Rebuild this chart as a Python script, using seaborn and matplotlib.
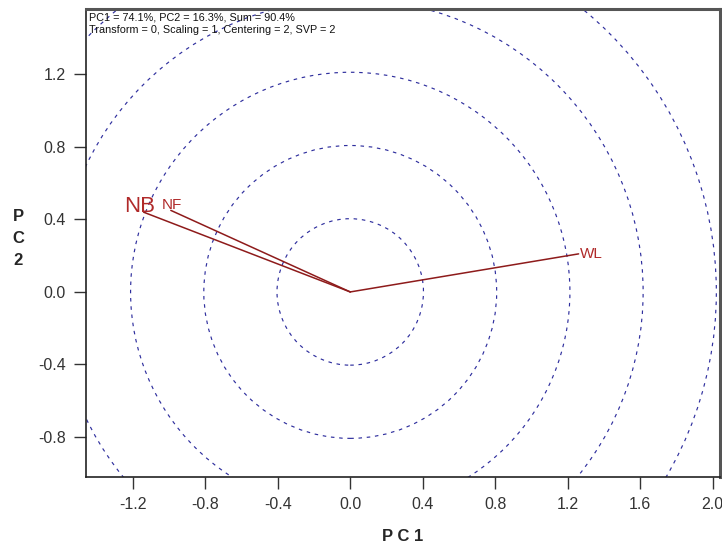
import numpy as np
import pandas as pd
import seaborn as sns
import matplotlib.pyplot as plt
from matplotlib.patches import Circle

# vector (loading) end points
variables = ["NB", "NF", "WL"]
pc1 = [-1.14, -0.99, 1.26]
pc2 = [0.44, 0.45, 0.21]

# concentric reference circles
radii = [0.404, 0.808, 1.212, 1.616, 2.02]

xticks = [-1.2, -0.8, -0.4, 0.0, 0.4, 0.8, 1.2, 1.6, 2.0]
yticks = [-0.8, -0.4, 0.0, 0.4, 0.8, 1.2]

sns.set_style("ticks")
plt.rcParams['font.family'] = ['Liberation Sans', 'DejaVu Sans']

fig = plt.figure(figsize=(7.22, 5.46), dpi=100)
ax = fig.add_axes([0.1191, 0.1264, 0.8781, 0.8571])

for r in radii:
    ax.add_patch(Circle((0, 0), r, fill=False, edgecolor="#2f2f9e",
                        linewidth=0.85, linestyle=(0, (3, 4)), zorder=1))

# segments from origin to each variable
seg = pd.DataFrame({
    "var": [v for v in variables for _ in range(2)],
    "x": [c for x in pc1 for c in (0.0, x)],
    "y": [c for y in pc2 for c in (0.0, y)],
})
sns.lineplot(data=seg, x="x", y="y", units="var", estimator=None,
             sort=False, color="#8e1b1b", linewidth=1.1, ax=ax, zorder=3)

# labels
offsets = {"NB": (-3, 4), "NF": (1, 4), "WL": (9, 0)}
sizes = {"NB": 16, "NF": 11, "WL": 11}
for v, x, y in zip(variables, pc1, pc2):
    ax.annotate(v, (x, y), xytext=offsets[v], textcoords="offset points",
                ha="center", va="center", fontsize=sizes[v],
                color="#b02a2a", zorder=4)

ax.set_xlim(-1.458, 2.040)
ax.set_ylim(-1.021, 1.561)
ax.set_xticks(xticks)
ax.set_yticks(yticks)
ax.set_xticklabels([f"{t:.1f}" for t in xticks])
ax.set_yticklabels([f"{t:.1f}" for t in yticks])
ax.tick_params(axis="both", length=8.5, width=1, labelsize=11.5,
               labelcolor="#333333", color="#333333", pad=6)

for s in ["left", "bottom"]:
    ax.spines[s].set_color("#222222")
    ax.spines[s].set_linewidth(1.2)
for s in ["top", "right"]:
    ax.spines[s].set_color("#555555")
    ax.spines[s].set_linewidth(2.2)

ax.set_xlabel("P C 1", fontsize=12, fontweight="bold", labelpad=12)
ax.set_ylabel("")
fig.text(0.025, 0.563, "P\nC\n2", fontsize=12, fontweight="bold",
         ha="center", va="center", linespacing=1.6)

ax.text(0.004, 0.992, "PC1 = 74.1%, PC2 = 16.3%, Sum = 90.4%\n"
        "Transform = 0, Scaling = 1, Centering = 2, SVP = 2",
        transform=ax.transAxes, ha="left", va="top", fontsize=7.8,
        linespacing=1.25, color="#111111")

fig.savefig("out.png", dpi=100)
